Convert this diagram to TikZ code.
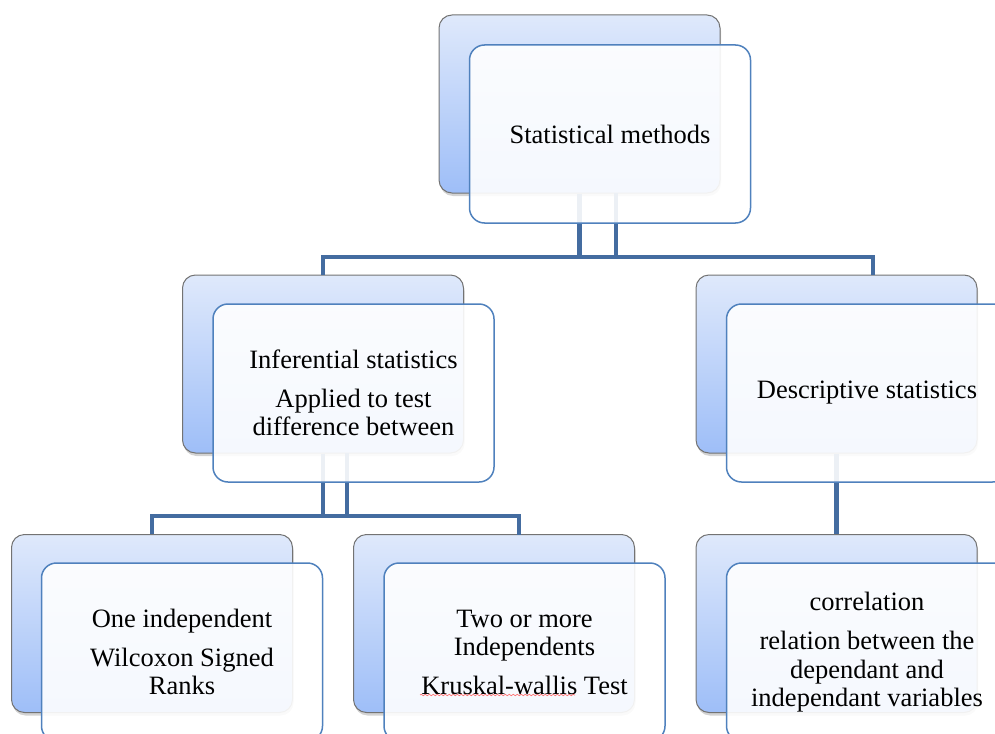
\documentclass[tikz,border=0pt]{standalone}
\usepackage{fontspec}
\setmainfont{Liberation Serif}
\usetikzlibrary{shadows,decorations.pathmorphing}
\definecolor{conncol}{RGB}{68,108,160}
\definecolor{frontline}{RGB}{79,129,189}
\definecolor{backtop}{RGB}{223,233,251}
\definecolor{backbot}{RGB}{158,190,248}
\definecolor{backline}{RGB}{115,115,115}
\begin{document}
\begin{tikzpicture}[x=1pt,y=-1pt,
 backbox/.style={rectangle, rounded corners=13pt, minimum width=281pt, minimum height=178pt, inner sep=0pt,
   draw=backline, line width=1pt, top color=backtop, bottom color=backbot,
   drop shadow={shadow xshift=1pt, shadow yshift=-3pt, opacity=0.35}},
 frontbox/.style={rectangle, rounded corners=15pt, minimum width=281pt, minimum height=178pt, inner sep=0pt,
   draw=frontline, line width=1.5pt, fill=white, fill opacity=0.9, text opacity=1, draw opacity=1,
   align=center, font=\fontsize{26.5}{28.5}\selectfont},
 conn/.style={draw=conncol, line width=4.5pt}]
\useasboundingbox (0,0) rectangle (995,733);
\clip (0,0) rectangle (995,733);

% back boxes
\node[backbox] (topB) at (579.5,104) {};
\node[backbox] (infB) at (323,364) {};
\node[backbox] (descB) at (836.5,364) {};
\node[backbox] (blB) at (152,623.5) {};
\node[backbox] (bmB) at (494,623.5) {};
\node[backbox] (brB) at (836.5,623.5) {};

% junction coordinates
\coordinate (hb1) at (0,257);
\coordinate (hb2) at (0,516);
\coordinate (t2) at (616,193);
\coordinate (r1) at (873,275);
\coordinate (i2) at (347,453);
\coordinate (bm1) at (519,535);

% connectors
\draw[conn] (topB.south) -- (topB.south |- hb1);
\draw[conn] (t2) -- (t2 |- hb1);
\draw[conn] (infB.north) -- (infB.north |- hb1) -- (r1 |- hb1) -- (r1);
\draw[conn] (infB.south) -- (infB.south |- hb2);
\draw[conn] (i2) -- (i2 |- hb2);
\draw[conn] (blB.north) -- (blB.north |- hb2) -- (bm1 |- hb2) -- (bm1);
\draw[conn] (descB.south) -- (brB.north);

% front boxes
\node[frontbox] (topF) at (610,134) {Statistical methods};
\node[frontbox] (infF) at (353.5,393) {Inferential statistics\\[10pt]Applied to test\\difference between};
\node[frontbox] (descF) at (867,393) {Descriptive statistics};
\node[frontbox] (blF) at (182,652) {One independent\\[10pt]Wilcoxon Signed\\Ranks};
\node[frontbox] (bmF) at (524.5,652) {Two or more\\Independents\\[10pt]Kruskal-wallis Test};
\node[frontbox] (brF) at (867,652) {correlation\\[11pt]relation between the\\dependant and\\independant variables};

% spell-check underline
\draw[red!60, line width=0.6pt, decorate, decoration={snake, amplitude=0.7pt, segment length=4pt}] (420,695) -- (575,695);
\end{tikzpicture}
\end{document}
